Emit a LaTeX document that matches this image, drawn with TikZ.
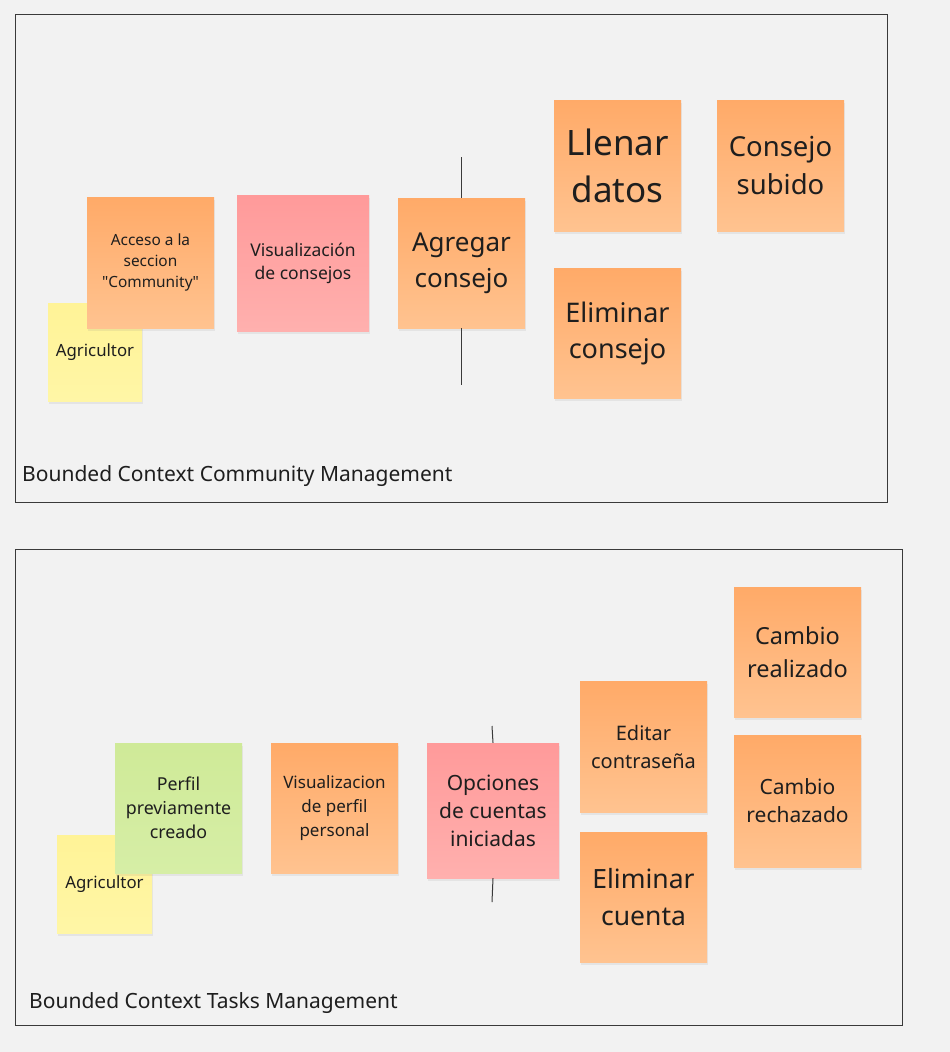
\documentclass[tikz,border=0pt]{standalone}
\usepackage{fontspec}
\setmainfont{Noto Sans}
\usetikzlibrary{shadows}

\definecolor{bgcol}{HTML}{F2F2F2}
\definecolor{framecol}{HTML}{3A3A3A}
\definecolor{inkcol}{HTML}{1E1E1E}
\definecolor{orgtop}{HTML}{FFAA68}
\definecolor{orgbot}{HTML}{FFC390}
\definecolor{pinktop}{HTML}{FF9A9A}
\definecolor{pinkbot}{HTML}{FFB0AE}
\definecolor{yeltop}{HTML}{FFF397}
\definecolor{yelbot}{HTML}{FFF6A6}
\definecolor{grntop}{HTML}{CFEA98}
\definecolor{grnbot}{HTML}{D6EEA6}

\newcommand{\notefont}[2]{\fontsize{#1}{#2}\selectfont}

\begin{document}
\begin{tikzpicture}[x=1pt,y=-1pt,
	sticky/.style={inner sep=0pt, align=center, text=inkcol,
		drop shadow={opacity=0.12, shadow xshift=1pt, shadow yshift=-2.5pt}},
	orangenote/.style={sticky, top color=orgtop, bottom color=orgbot},
	pinknote/.style={sticky, top color=pinktop, bottom color=pinkbot},
	yellownote/.style={sticky, top color=yeltop, bottom color=yelbot},
	greennote/.style={sticky, top color=grntop, bottom color=grnbot},
	frame/.style={draw=framecol, line width=0.9pt},
	tick/.style={draw=framecol, line width=1pt},
	ctxlabel/.style={anchor=west, inner sep=0pt, text=inkcol, font=\notefont{21}{26}}]

	\useasboundingbox[fill=bgcol] (0,0) rectangle (950,1052);

	\draw[frame] (15,14) rectangle (887,502);
	\draw[frame] (15,549) rectangle (902,1025);

	\node[ctxlabel] (ctxcomm) at (22,476) {Bounded Context Community Management};
	\node[ctxlabel] (ctxtask) at (29,1003) {Bounded Context Tasks Management};

	\node[yellownote, minimum width=94pt, minimum height=98pt, font=\notefont{16.8}{22}] (agri1) at (95,352) {Agricultor};
	\node[orangenote, minimum width=127pt, minimum height=131pt, font=\notefont{15.4}{21}] (acceso) at (150.5,262.5) {Acceso a la\\seccion\\\textquotedbl Community\textquotedbl};
	\node[pinknote, minimum width=132pt, minimum height=136pt, font=\notefont{17.5}{23}] (visual) at (303,263) {Visualización\\de consejos};
	\node[orangenote, minimum width=127pt, minimum height=130pt, font=\notefont{26}{36}] (agregar) at (461.5,263) {Agregar\\consejo};
	\node[orangenote, minimum width=127pt, minimum height=131pt, font=\notefont{35}{47}] (llenar) at (617.5,165.5) {Llenar\\datos};
	\node[orangenote, minimum width=127pt, minimum height=131pt, font=\notefont{27.5}{38}] (subido) at (780.5,165.5) {Consejo\\subido};
	\node[orangenote, minimum width=127pt, minimum height=130pt, font=\notefont{27}{36}] (eliminar) at (617.5,333) {Eliminar\\consejo};

	\coordinate (agtop) at (461.5,157);
	\coordinate (agbot) at (461.5,385);
	\draw[tick] (agtop) -- (agregar.north);
	\draw[tick] (agregar.south) -- (agbot);

	\node[yellownote, minimum width=95pt, minimum height=98pt, font=\notefont{16.8}{22}] (agri2) at (104.5,884) {Agricultor};
	\node[greennote, minimum width=127pt, minimum height=130pt, font=\notefont{17.8}{24}] (perfil) at (178.5,808) {Perfil\\previamente\\creado};
	\node[orangenote, minimum width=127pt, minimum height=130pt, font=\notefont{17}{24}] (vispersonal) at (334.5,808) {Visualizacion\\de perfil\\personal};
	\node[pinknote, minimum width=132pt, minimum height=135pt, font=\notefont{21}{28}] (opciones) at (493,810.5) {Opciones\\de cuentas\\iniciadas};
	\node[orangenote, minimum width=127pt, minimum height=131pt, font=\notefont{20}{28}] (editar) at (643.5,746.5) {Editar\\contraseña};
	\node[orangenote, minimum width=127pt, minimum height=130pt, font=\notefont{26.5}{37}] (elimcuenta) at (643.5,897) {Eliminar\\cuenta};
	\node[orangenote, minimum width=127pt, minimum height=130pt, font=\notefont{23.5}{33}] (realizado) at (797.5,652) {Cambio\\realizado};
	\node[orangenote, minimum width=127pt, minimum height=132pt, font=\notefont{21}{28}] (rechazado) at (797.5,801) {Cambio\\rechazado};

	\coordinate (optop) at (492,726);
	\coordinate (opbot) at (492,902);
	\draw[tick] (optop) -- (opciones.north);
	\draw[tick] (opciones.south) -- (opbot);
\end{tikzpicture}
\end{document}
